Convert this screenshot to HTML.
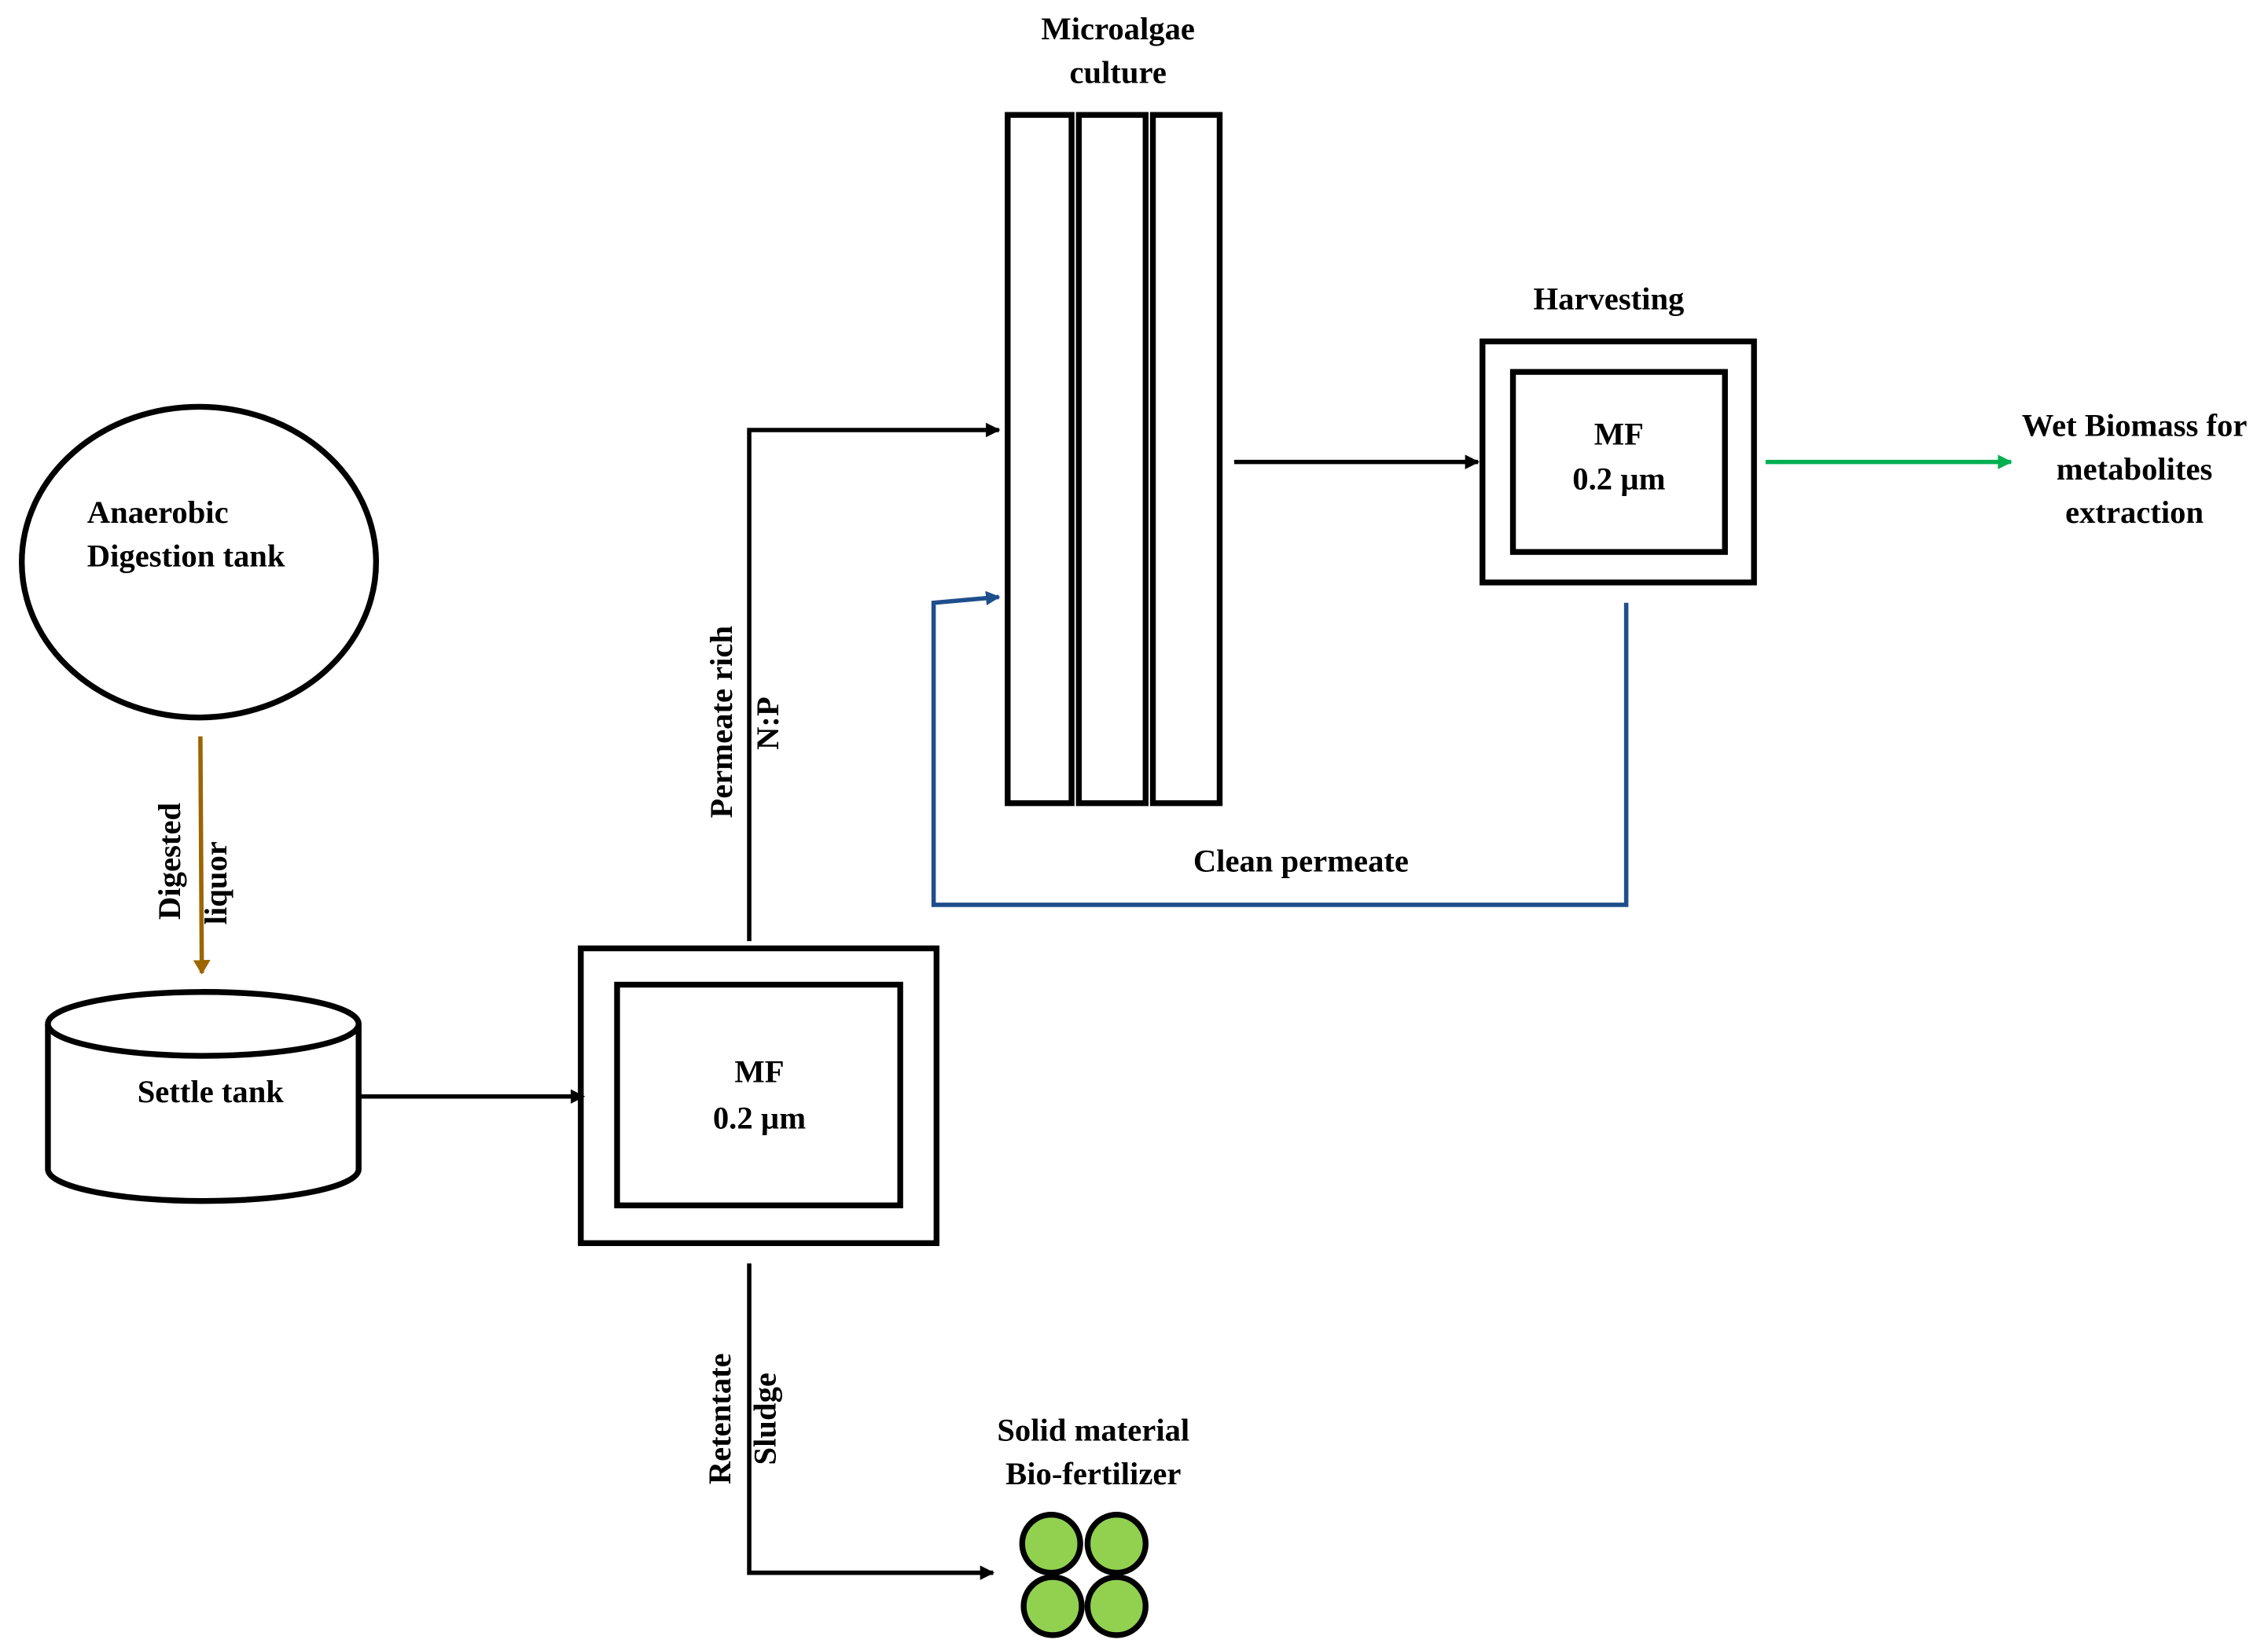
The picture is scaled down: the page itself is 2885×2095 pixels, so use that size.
<!DOCTYPE html>
<html><head><meta charset="utf-8"><style>html,body{margin:0;padding:0;background:#fff}svg{display:block}</style></head>
<body>
<svg width="2885" height="2095" viewBox="0 0 1562 1134" xmlns="http://www.w3.org/2000/svg">
<defs>
<marker id="ab" markerWidth="10" markerHeight="10" refX="9" refY="5" orient="auto" markerUnits="userSpaceOnUse"><path d="M0,0 L10,5 L0,10 z" fill="#000"/></marker>
<marker id="abr" markerWidth="10" markerHeight="12" refX="9" refY="6" orient="auto" markerUnits="userSpaceOnUse"><path d="M0,0 L10,6 L0,12 z" fill="#9c6500"/></marker>
<marker id="abl" markerWidth="10" markerHeight="10" refX="9" refY="5" orient="auto" markerUnits="userSpaceOnUse"><path d="M0,0 L10,5 L0,10 z" fill="#1f4e8c"/></marker>
<marker id="ag" markerWidth="10" markerHeight="10" refX="9" refY="5" orient="auto" markerUnits="userSpaceOnUse"><path d="M0,0 L10,5 L0,10 z" fill="#00b050"/></marker>
</defs>
<g font-family="Liberation Serif, serif" font-weight="bold" font-size="22" fill="#000">
<ellipse cx="137" cy="387" rx="122" ry="107" fill="none" stroke="#000" stroke-width="4"/>
<text x="60" y="360">Anaerobic</text>
<text x="60" y="390">Digestion tank</text>

<line x1="138" y1="507" x2="139" y2="670" stroke="#9c6500" stroke-width="3" marker-end="url(#abr)"/>
<text transform="translate(124,593) rotate(-90)" text-anchor="middle">Digested</text>
<text transform="translate(156,608) rotate(-90)" text-anchor="middle">liquor</text>

<path d="M33,705 L33,805 A107,22 0 0 0 247,805 L247,705" fill="none" stroke="#000" stroke-width="4"/>
<ellipse cx="140" cy="705" rx="107" ry="22" fill="none" stroke="#000" stroke-width="4"/>
<text x="145" y="759" text-anchor="middle">Settle tank</text>

<line x1="247" y1="755" x2="402" y2="755" stroke="#000" stroke-width="3" marker-end="url(#ab)"/>
<rect x="400" y="653" width="245" height="203" fill="none" stroke="#000" stroke-width="4"/>
<rect x="425" y="678" width="195" height="152" fill="none" stroke="#000" stroke-width="4"/>
<text x="523" y="745" text-anchor="middle">MF</text>
<text x="523" y="777" text-anchor="middle">0.2 µm</text>

<polyline points="516,648 516,296 688,296" fill="none" stroke="#000" stroke-width="3" marker-end="url(#ab)"/>
<text transform="translate(504,497) rotate(-90)" text-anchor="middle">Permeate rich</text>
<text transform="translate(536,498) rotate(-90)" text-anchor="middle">N:P</text>

<rect x="694" y="79" width="44" height="474" fill="none" stroke="#000" stroke-width="4"/>
<rect x="743" y="79" width="46" height="474" fill="none" stroke="#000" stroke-width="4"/>
<rect x="794" y="79" width="46" height="474" fill="none" stroke="#000" stroke-width="4"/>
<text x="770" y="27" text-anchor="middle">Microalgae</text>
<text x="770" y="57" text-anchor="middle">culture</text>

<polyline points="1120,415 1120,623 643,623 643,415 688,411" fill="none" stroke="#1f4e8c" stroke-width="3" marker-end="url(#abl)"/>
<text x="896" y="600" text-anchor="middle">Clean permeate</text>

<line x1="850" y1="318" x2="1018" y2="318" stroke="#000" stroke-width="3" marker-end="url(#ab)"/>
<rect x="1021" y="235" width="187" height="166" fill="none" stroke="#000" stroke-width="4"/>
<rect x="1042" y="256" width="146" height="124" fill="none" stroke="#000" stroke-width="4"/>
<text x="1108" y="213" text-anchor="middle">Harvesting</text>
<text x="1115" y="306" text-anchor="middle">MF</text>
<text x="1115" y="337" text-anchor="middle">0.2 µm</text>

<line x1="1216" y1="318" x2="1385" y2="318" stroke="#00b050" stroke-width="3" marker-end="url(#ag)"/>
<text x="1470" y="300" text-anchor="middle">Wet Biomass for</text>
<text x="1470" y="330" text-anchor="middle">metabolites</text>
<text x="1470" y="360" text-anchor="middle">extraction</text>

<polyline points="516,870 516,1083 684,1083" fill="none" stroke="#000" stroke-width="3" marker-end="url(#ab)"/>
<text transform="translate(503,977) rotate(-90)" text-anchor="middle">Retentate</text>
<text transform="translate(534,977) rotate(-90)" text-anchor="middle">Sludge</text>

<text x="753" y="992" text-anchor="middle">Solid material</text>
<text x="753" y="1022" text-anchor="middle">Bio-fertilizer</text>
<g fill="#92d050" stroke="#000" stroke-width="4">
<circle cx="724" cy="1063" r="20"/><circle cx="769" cy="1063" r="20"/>
<circle cx="725" cy="1106" r="20"/><circle cx="769" cy="1106" r="20"/>
</g>
</g>
</svg>
</body></html>
